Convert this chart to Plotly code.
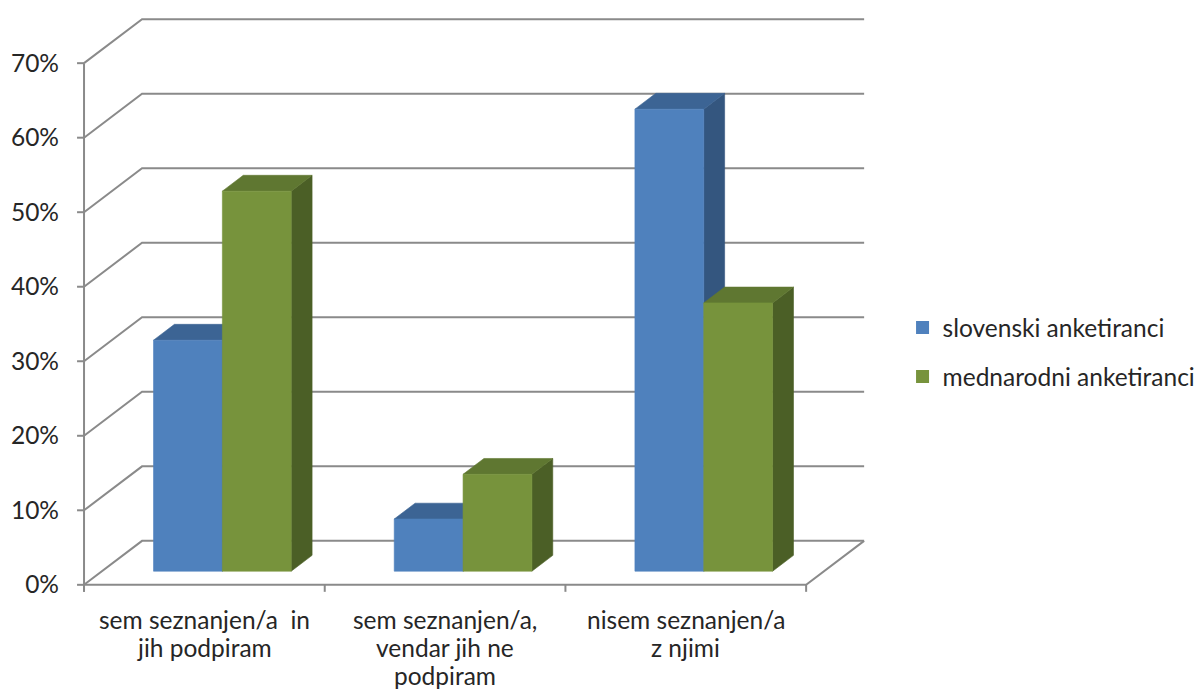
import plotly.graph_objects as go

# ---- data -------------------------------------------------------------
categories = [
    "sem seznanjen/a  in<br>jih podpiram",
    "sem seznanjen/a,<br>vendar jih ne<br>podpiram",
    "nisem seznanjen/a<br>z njimi",
]
series_names = ["slovenski anketiranci", "mednarodni anketiranci"]
slovenski = [31, 7, 62]
mednarodni = [51, 13, 36]
pct_ticks = [0, 10, 20, 30, 40, 50, 60, 70]
pct_labels = [f"{v}%" for v in pct_ticks]

# ---- styling ----------------------------------------------------------
FRONT = ["#4F81BD", "#77933C"]
TOP = ["#3C6494", "#5F7731"]
SIDE = ["#34567F", "#4B5F26"]
GRID = "#8A8A8A"
TEXT = "#262626"
FONT = "Lato"
FSIZE = 24.5
LINE_H = 28        # px between lines of a category label

# oblique projection of the depth axis (x in category units, y in percent)
DX = 0.241
DY = 5.9
BAR_W = 0.286      # width of one bar, category units
D0 = 0.31          # depth where bars start
DD = 0.36          # bar depth
TICK_X = 0.029     # y tick length in x units
TICK_Y = 0.94      # x tick length in y units

n_cat = len(categories)
wall_top = pct_ticks[-1]

fig = go.Figure()

# ---- walls, floor, axis lines, ticks ----------------------------------
lx, ly = [], []
def seg(points):
    for px, py in points:
        lx.append(px)
        ly.append(py)
    lx.append(None)
    ly.append(None)

for v in pct_ticks:
    seg([(0, v), (DX, v + DY), (n_cat + DX, v + DY)])
    seg([(-TICK_X, v), (0, v)])
seg([(0, 0), (n_cat, 0), (n_cat + DX, DY)])
seg([(0, -TICK_Y), (0, wall_top)])
for i in range(n_cat + 1):
    seg([(i, 0), (i, -TICK_Y)])

fig.add_trace(go.Scatter(
    x=lx, y=ly, mode="lines",
    line=dict(color=GRID, width=2),
    hoverinfo="skip", showlegend=False,
))

# ---- 3D bars ---------------------------------------------------------
def face(pts, color):
    xs = [p[0] for p in pts] + [pts[0][0]]
    ys = [p[1] for p in pts] + [pts[0][1]]
    fig.add_trace(go.Scatter(
        x=xs, y=ys, mode="lines", fill="toself",
        fillcolor=color, line=dict(color=color, width=0.6),
        hoverinfo="skip", showlegend=False,
    ))

values = [slovenski, mednarodni]
for i in range(n_cat):
    for s, vals in enumerate(values):
        v = vals[i]
        xl = i + 0.5 - BAR_W + s * BAR_W + D0 * DX
        xr = xl + BAR_W
        yb = D0 * DY
        yt = yb + v
        ddx, ddy = DD * DX, DD * DY
        face([(xr, yb), (xr + ddx, yb + ddy), (xr + ddx, yt + ddy), (xr, yt)], SIDE[s])
        face([(xl, yt), (xr, yt), (xr + ddx, yt + ddy), (xl + ddx, yt + ddy)], TOP[s])
        face([(xl, yb), (xr, yb), (xr, yt), (xl, yt)], FRONT[s])

# legend entries
for s, name in enumerate(series_names):
    fig.add_trace(go.Scatter(
        x=[None], y=[None], mode="markers", name=name,
        marker=dict(symbol="square", size=13, color=FRONT[s]),
        legendgroup=name,
    ))

# category labels under the floor, one annotation per text line
for i, lab in enumerate(categories):
    for k, line in enumerate(lab.split("<br>")):
        fig.add_annotation(
            x=i + 0.5, y=0, xref="x", yref="y", text=line, showarrow=False,
            yanchor="middle", yshift=-(35 + k * LINE_H), align="center",
            font=dict(family=FONT, size=FSIZE, color=TEXT),
        )

fig.update_layout(
    width=1201, height=695,
    margin=dict(l=72, r=10, t=11, b=99, autoexpand=False),
    paper_bgcolor="white", plot_bgcolor="white",
    font=dict(family=FONT, size=FSIZE, color=TEXT),
    xaxis=dict(range=[-0.05, 4.599], visible=False, fixedrange=True),
    yaxis=dict(
        range=[-1.5, 77], tickmode="array", tickvals=pct_ticks, ticktext=pct_labels,
        showgrid=False, zeroline=False, showline=False, ticks="",
        ticklabelstandoff=12, fixedrange=True, automargin=False,
        tickfont=dict(family=FONT, size=FSIZE, color=TEXT),
    ),
    legend=dict(
        xref="container", yref="container",
        x=0.7515, y=0.561, xanchor="left", yanchor="top",
        traceorder="grouped", tracegroupgap=14,
        font=dict(family=FONT, size=FSIZE, color=TEXT),
        bgcolor="rgba(0,0,0,0)",
    ),
    showlegend=True,
)

fig.write_html("out.html")
